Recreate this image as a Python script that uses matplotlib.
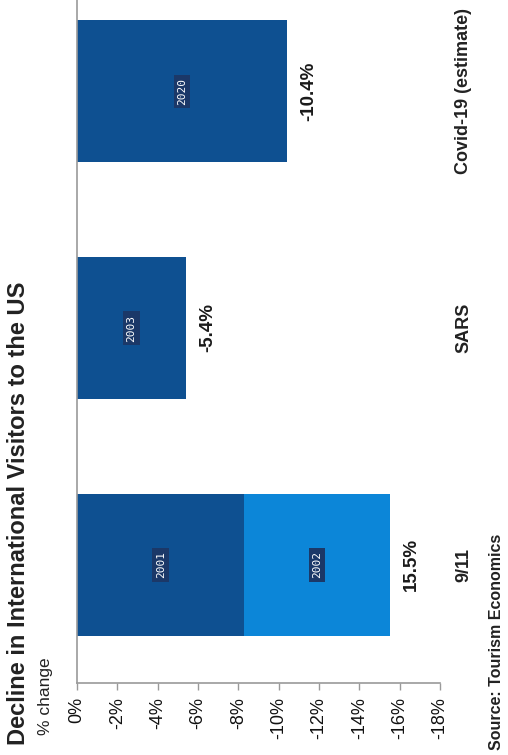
import matplotlib
matplotlib.use("Agg")
import matplotlib.pyplot as plt
import numpy as np

plt.rcParams['font.family'] = ['Liberation Sans', 'DejaVu Sans']

# Events and the yearly declines that make up each one
events = ["9/11", "SARS", "Covid-19 (estimate)"]
years = ["2001", "2002", "2003", "2020"]
year_event = [0, 0, 1, 2]
year_change = [-8.3, -7.2, -5.4, -10.4]
year_shade = ["dark", "light", "dark", "dark"]
total_labels = ["15.5%", "-5.4%", "-10.4%"]
tick_values = [0, -2, -4, -6, -8, -10, -12, -14, -16, -18]
tick_labels = ["0%", "-2%", "-4%", "-6%", "-8%", "-10%", "-12%", "-14%", "-16%", "-18%"]

palette = {"dark": "#0e5091", "light": "#0c86d8"}

W, H = 508, 755
fig = plt.figure(figsize=(W / 100, H / 100), dpi=100)
ax = fig.add_axes([77 / W, 72 / H, (440 - 77) / W, 710 / H])

# stacked horizontal bars, one stack per event
offsets = np.zeros(len(events))
for yr, ev, ch, shade in zip(years, year_event, year_change, year_shade):
    left = offsets[ev]
    ax.barh(ev, ch, left=left, height=0.6, color=palette[shade], edgecolor="none", zorder=2)
    ax.text(left + ch / 2, ev, yr, rotation=90, ha="center", va="center",
            color="white", fontsize=8, family="DejaVu Sans Mono",
            bbox=dict(boxstyle="square,pad=0.3", fc="#1b3868", ec="none"), zorder=3)
    offsets[ev] += ch

# event totals beyond the bar ends
for i, (tot, lab) in enumerate(zip(offsets, total_labels)):
    ax.text(tot - 1.1, i, lab, rotation=90, ha="center", va="center",
            fontsize=13.5, fontweight="bold", color="#1a1a1a")

# event names to the right of the plot
ytr = ax.get_yaxis_transform()
for i, ev in enumerate(events):
    ax.text(1.065, i, ev, transform=ytr, rotation=90, ha="center", va="center",
            fontsize=13, fontweight="bold", color="#222222", clip_on=False)

ax.set_xlim(0, -18)
ax.set_ylim(-0.5, 2.5)
ax.set_xticks(tick_values)
ax.set_xticklabels(tick_labels, rotation=90, fontsize=13, color="#111111")
ax.set_yticks([])
ax.tick_params(axis="x", direction="out", length=5, width=1, color="#9a9a9a", pad=5)
for s in ("top", "right"):
    ax.spines[s].set_visible(False)
for s in ("left", "bottom"):
    ax.spines[s].set_color("#9a9a9a")
    ax.spines[s].set_linewidth(1.2)

fig.text(7 / W, 10 / H, "Decline in International Visitors to the US", rotation=90,
         ha="left", va="bottom", fontsize=17, fontweight="bold", color="#222222")
fig.text(38 / W, 20 / H, "% change", rotation=90, ha="left", va="bottom",
         fontsize=12.5, color="#222222")
fig.text(489 / W, 5 / H, "Source: Tourism Economics", rotation=90, ha="left", va="bottom",
         fontsize=11.5, fontweight="bold", color="#222222")

fig.savefig("out.png", dpi=100)
